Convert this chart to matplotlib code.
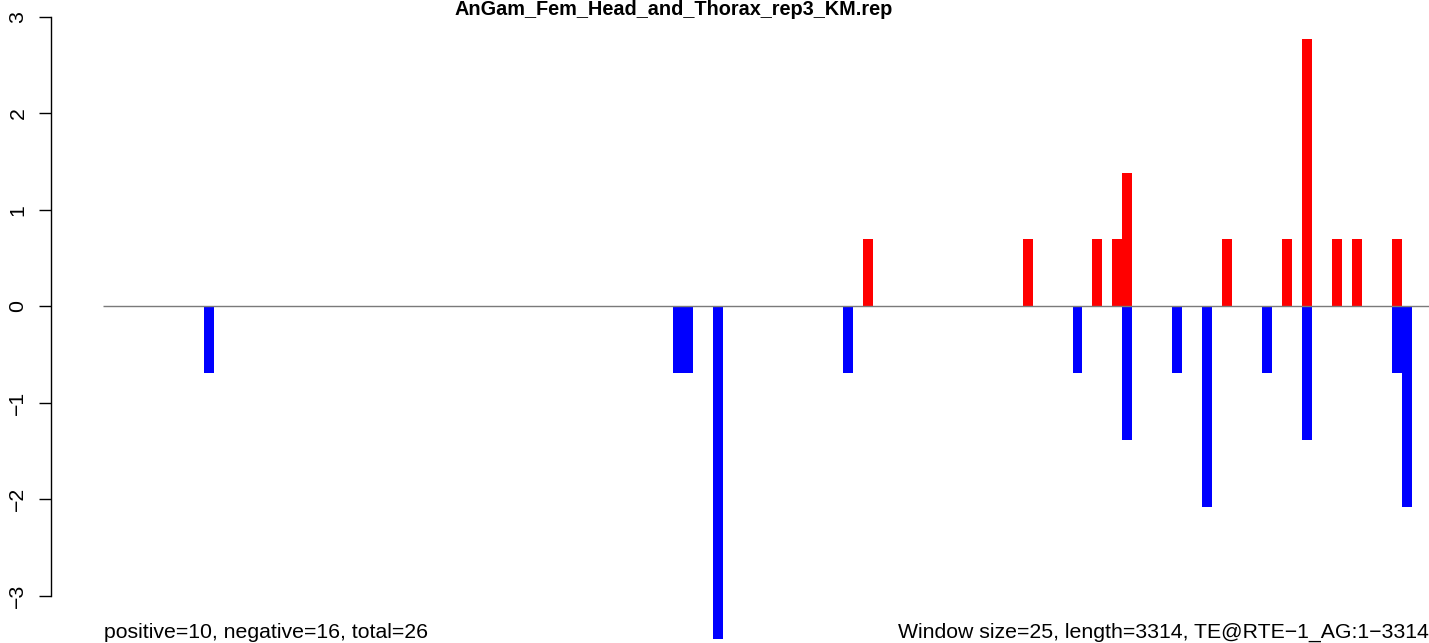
import matplotlib
matplotlib.use("Agg")
import matplotlib.pyplot as plt

title = "AnGam_Fem_Head_and_Thorax_rep3_KM.rep"
left_note = "positive=10, negative=16, total=26"
right_note = "Window size=25, length=3314, TE@RTE\u22121_AG:1\u22123314"
window_size = 25
te_length = 3314

# window index -> value (positive strand, red)
pos_windows = [76, 92, 99, 101, 102, 112, 118, 120, 123, 125, 129]
pos_values = [0.693, 0.693, 0.693, 0.693, 1.386, 0.693, 0.693, 2.773, 0.693, 0.693, 0.693]
# window index -> value (negative strand, blue)
neg_windows = [10, 57, 58, 61, 74, 97, 102, 107, 110, 116, 120, 129, 130]
neg_values = [-0.693, -0.693, -0.693, -3.45, -0.693, -0.693, -1.386, -0.693, -2.079, -0.693, -1.386, -0.693, -2.079]
yticks = [-3, -2, -1, 0, 1, 2, 3]

plt.rcParams['font.family'] = ['Liberation Sans', 'DejaVu Sans']

W, H = 1429, 643
fig = plt.figure(figsize=(W / 100, H / 100), dpi=100)

px_per_bp = 0.3993
x0_px = 104.2
ax_left_px = 50.5
xmin = (ax_left_px - x0_px) / px_per_bp
xmax = (W - x0_px) / px_per_bp

ppu = 96.5
y0_px = 306.3
ymax = y0_px / ppu
ymin = -(H - y0_px) / ppu

ax = fig.add_axes([ax_left_px / W, 0, 1 - ax_left_px / W, 1])
ax.set_xlim(xmin, xmax)
ax.set_ylim(ymin, ymax)

ax.bar([w * window_size for w in pos_windows], pos_values, width=window_size,
       align='edge', color='#ff0000', linewidth=0)
ax.bar([w * window_size for w in neg_windows], neg_values, width=window_size,
       align='edge', color='#0000ff', linewidth=0)
ax.hlines(0, -2, xmax, colors='#7a7a7a', linewidth=1.0, zorder=3)

for s in ['top', 'right', 'bottom']:
    ax.spines[s].set_visible(False)
ax.spines['left'].set_bounds(-3, 3)
ax.spines['left'].set_linewidth(1.0)
ax.set_xticks([])
ax.set_yticks(yticks)
ax.set_yticklabels([str(t).replace('-', '\u2212') for t in yticks])
ax.tick_params(axis='y', length=8.64, width=1.0, pad=8, labelsize=15.3, labelrotation=90)
for lab in ax.get_yticklabels():
    lab.set_va('center')
    lab.set_ha('right')

t = fig.text(673.5 / W, 1 - 15 / H, title, ha='center', va='baseline',
             fontsize=18.4, fontweight='bold',
             family=['Liberation Sans Narrow', 'Liberation Sans', 'DejaVu Sans'])
fig.canvas.draw()
bb = t.get_window_extent()
target = 437.0
if bb.width > 0:
    t.set_fontsize(18.4 * target / bb.width)
fig.text(104 / W, 1 - 637.5 / H, left_note, ha='left', va='baseline', fontsize=15.3)
fig.text(1429 / W, 1 - 637.5 / H, right_note, ha='right', va='baseline', fontsize=15.3)

fig.savefig("out.png", dpi=100)
